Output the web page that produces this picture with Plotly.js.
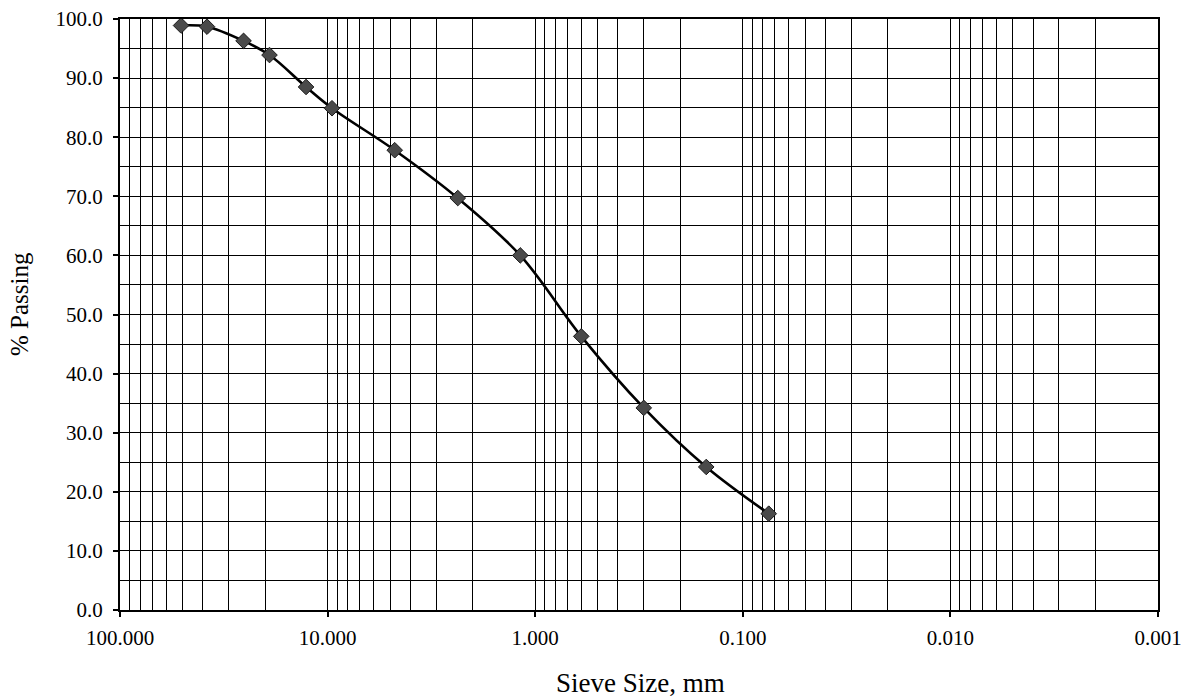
<!DOCTYPE html>
<html>
<head>
<meta charset="utf-8">
<script src="https://cdn.plot.ly/plotly-3.0.1.min.js"></script>
<style>
  html, body { margin: 0; padding: 0; background: #fff; }
  #chart { width: 1186px; height: 698px; }
</style>
</head>
<body>
<div id="chart"></div>
<script>
// Sieve sizes (mm) and percent passing
const sieveSize = [50.8, 38.1, 25.4, 19.05, 12.7, 9.525, 4.75, 2.36, 1.18, 0.6, 0.3, 0.15, 0.075];
const percentPassing = [98.9, 98.7, 96.3, 93.9, 88.5, 84.9, 77.8, 69.7, 60.0, 46.3, 34.2, 24.2, 16.3];

// Axis tick labels
const xTickVals = [100, 10, 1, 0.1, 0.01, 0.001];
const xTickText = ['100.000', '10.000', '1.000', '0.100', '0.010', '0.001'];
const yTickVals = [0, 10, 20, 30, 40, 50, 60, 70, 80, 90, 100];
const yTickText = ['0.0', '10.0', '20.0', '30.0', '40.0', '50.0', '60.0', '70.0', '80.0', '90.0', '100.0'];

const xTitle = 'Sieve Size, mm';
const yTitle = '% Passing';

const serif = '"Liberation Serif", "Times New Roman", serif';

const trace = {
  x: sieveSize,
  y: percentPassing,
  type: 'scatter',
  mode: 'lines+markers',
  line: { color: '#000', width: 2.6, shape: 'spline', smoothing: 1 },
  marker: { symbol: 'diamond', size: 12, color: '#4a4a4a', line: { color: '#1a1a1a', width: 1 } },
  hoverinfo: 'skip',
  showlegend: false
};

const layout = {
  width: 1186,
  height: 698,
  margin: { l: 120, r: 28, t: 19, b: 88 },
  paper_bgcolor: '#fff',
  plot_bgcolor: '#fff',
  font: { family: serif, color: '#000', size: 21 },
  xaxis: {
    type: 'log',
    range: [2, -3],
    tickmode: 'array',
    tickvals: xTickVals,
    ticktext: xTickText,
    ticks: 'outside',
    ticklen: 5,
    tickwidth: 2,
    tickcolor: '#000',
    ticklabelstandoff: 3,
    showgrid: true,
    gridcolor: '#000',
    gridwidth: 1,
    minor: { tickmode: 'linear', dtick: 'D1', showgrid: true, gridcolor: '#000', gridwidth: 1, ticks: '' },
    showline: true,
    linecolor: '#000',
    linewidth: 2,
    mirror: true,
    zeroline: false,
    tickfont: { family: serif, size: 21, color: '#000' }
  },
  yaxis: {
    range: [0, 100],
    tickmode: 'array',
    tickvals: yTickVals,
    ticktext: yTickText,
    ticks: 'outside',
    ticklen: 5,
    tickwidth: 2,
    tickcolor: '#000',
    ticklabelstandoff: 6,
    showgrid: true,
    gridcolor: '#000',
    gridwidth: 1,
    minor: { tickmode: 'linear', tick0: 0, dtick: 5, showgrid: true, gridcolor: '#000', gridwidth: 1, ticks: '' },
    showline: true,
    linecolor: '#000',
    linewidth: 2,
    mirror: true,
    zeroline: false,
    tickfont: { family: serif, size: 21, color: '#000' }
  },
  annotations: [
    {
      text: xTitle, showarrow: false,
      xref: 'paper', yref: 'paper',
      x: (640 - 120) / 1038, y: -(683 - 610) / 591,
      xanchor: 'center', yanchor: 'middle',
      font: { family: serif, size: 27, color: '#000' }
    },
    {
      text: yTitle, showarrow: false, textangle: -90,
      xref: 'paper', yref: 'paper',
      x: -(120 - 19) / 1038, y: (610 - 304) / 591,
      xanchor: 'center', yanchor: 'middle',
      font: { family: serif, size: 25, color: '#000' }
    }
  ]
};

Plotly.newPlot('chart', [trace], layout, { displayModeBar: false, staticPlot: true });
</script>
</body>
</html>
